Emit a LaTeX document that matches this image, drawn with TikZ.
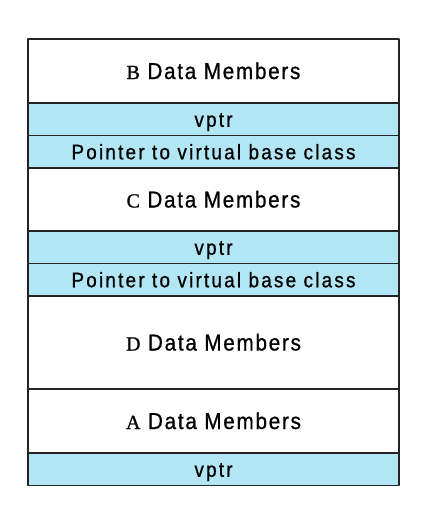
\documentclass[tikz,border=0pt]{standalone}
\usepackage{fontspec}
\newfontfamily\datafont{Liberation Sans}[FakeStretch=0.9, LetterSpace=7.5, FakeBold=0.8]
\newfontfamily\stripfont{Liberation Sans}[FakeStretch=0.9, LetterSpace=10.5, FakeBold=0.8]
\newfontfamily\clsfont{Liberation Serif}[FakeBold=1]
\usetikzlibrary{positioning}

\definecolor{vcyan}{RGB}{178,230,245}
\definecolor{rulegray}{RGB}{35,35,35}

\tikzset{
  row/.style={draw=rulegray, line width=1.5pt, minimum width=371pt,
    inner sep=0pt, outer sep=0pt, text depth=0pt},
  datarow/.style={row, text height=16pt, font=\datafont\fontsize{23}{26}\selectfont},
  strip/.style={row, fill=vcyan, minimum height=32.5pt, text height=15pt,
    font=\stripfont\fontsize{21}{24}\selectfont},
}
\newcommand{\clsname}[1]{{\clsfont\fontsize{20}{20}\selectfont #1}}

\begin{document}
\begin{tikzpicture}[line cap=round, line join=round]
  \useasboundingbox (0,0) rectangle (429pt,-519pt);

  \node[datarow, minimum height=64pt, anchor=north west] (bdata) at (28pt,-39pt)
    {\clsname{B} Data Members};
  \node[strip, below=0pt of bdata] (bvptr) {vptr};
  \node[strip, below=0pt of bvptr] (bvbase) {Pointer to virtual base class};

  \node[datarow, minimum height=63pt, below=0pt of bvbase] (cdata)
    {\clsname{C} Data Members};
  \node[strip, below=0pt of cdata] (cvptr) {vptr};
  \node[strip, below=0pt of cvptr] (cvbase) {Pointer to virtual base class};

  \node[datarow, minimum height=93pt, below=0pt of cvbase] (ddata)
    {\clsname{D} Data Members};

  \node[datarow, minimum height=64pt, below=0pt of ddata] (adata)
    {\clsname{A} Data Members};
  \node[strip, below=0pt of adata] (avptr) {vptr};
\end{tikzpicture}
\end{document}
